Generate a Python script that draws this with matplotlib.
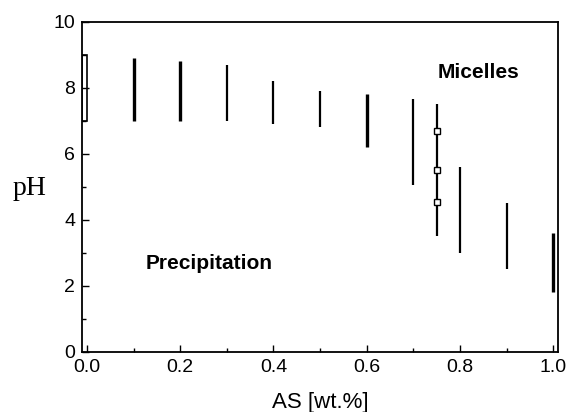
import matplotlib.pyplot as plt
from matplotlib.patches import Rectangle
from matplotlib.ticker import MultipleLocator

plt.rcParams['font.family'] = ['Liberation Sans', 'DejaVu Sans']

# pH ranges for each AS concentration
as_wt = [0.1, 0.2, 0.3, 0.4, 0.5, 0.6, 0.7, 0.75, 0.8, 0.9, 1.0]
ph_low = [7.0, 7.0, 7.0, 6.9, 6.8, 6.2, 5.05, 3.5, 3.0, 2.5, 1.8]
ph_high = [8.9, 8.8, 8.7, 8.2, 7.9, 7.8, 7.65, 7.5, 5.6, 4.5, 3.6]
widths = [2.4, 2.4, 1.6, 1.6, 1.6, 2.4, 1.6, 1.6, 1.6, 1.6, 2.4]

# range at zero AS (drawn as open box)
zero_low, zero_high = 7.0, 9.0

# measured points at 0.75 wt.%
pts_x = [0.75, 0.75, 0.75]
pts_y = [6.7, 5.5, 4.53]

fig, ax = plt.subplots(figsize=(5.67, 4.12), dpi=100)
fig.subplots_adjust(left=0.145, right=0.984, top=0.947, bottom=0.146)

for x, lo, hi, w in zip(as_wt, ph_low, ph_high, widths):
    ax.vlines(x, lo, hi, color='black', linewidth=w)

ax.add_patch(Rectangle((-0.01, zero_low), 0.0105, zero_high - zero_low,
                       fill=False, edgecolor='black', linewidth=1.2))

ax.plot(pts_x, pts_y, 's', markersize=5, markerfacecolor='white',
        markeredgecolor='black', markeredgewidth=1.0)

ax.text(0.84, 8.47, 'Micelles', fontsize=15, fontweight='bold', ha='center', va='center')
ax.text(0.262, 2.67, 'Precipitation', fontsize=15, fontweight='bold', ha='center', va='center')

ax.set_xlim(-0.01, 1.01)
ax.set_ylim(0, 10)
ax.xaxis.set_major_locator(MultipleLocator(0.2))
ax.xaxis.set_minor_locator(MultipleLocator(0.1))
ax.yaxis.set_major_locator(MultipleLocator(2))
ax.yaxis.set_minor_locator(MultipleLocator(1))
ax.tick_params(which='both', direction='in', top=False, right=False, labelsize=14)
ax.tick_params(which='major', length=5, width=1, pad=5)
ax.tick_params(which='minor', length=3, width=1)
for s in ax.spines.values():
    s.set_linewidth(1.3)

ax.set_xlabel('AS [wt.%]', fontsize=16, labelpad=12)
ax.set_ylabel('pH', fontsize=20, family='Liberation Serif', rotation=0, va='center')
ax.yaxis.set_label_coords(-0.11, 0.495)

plt.savefig('out.png')
plt.close()
